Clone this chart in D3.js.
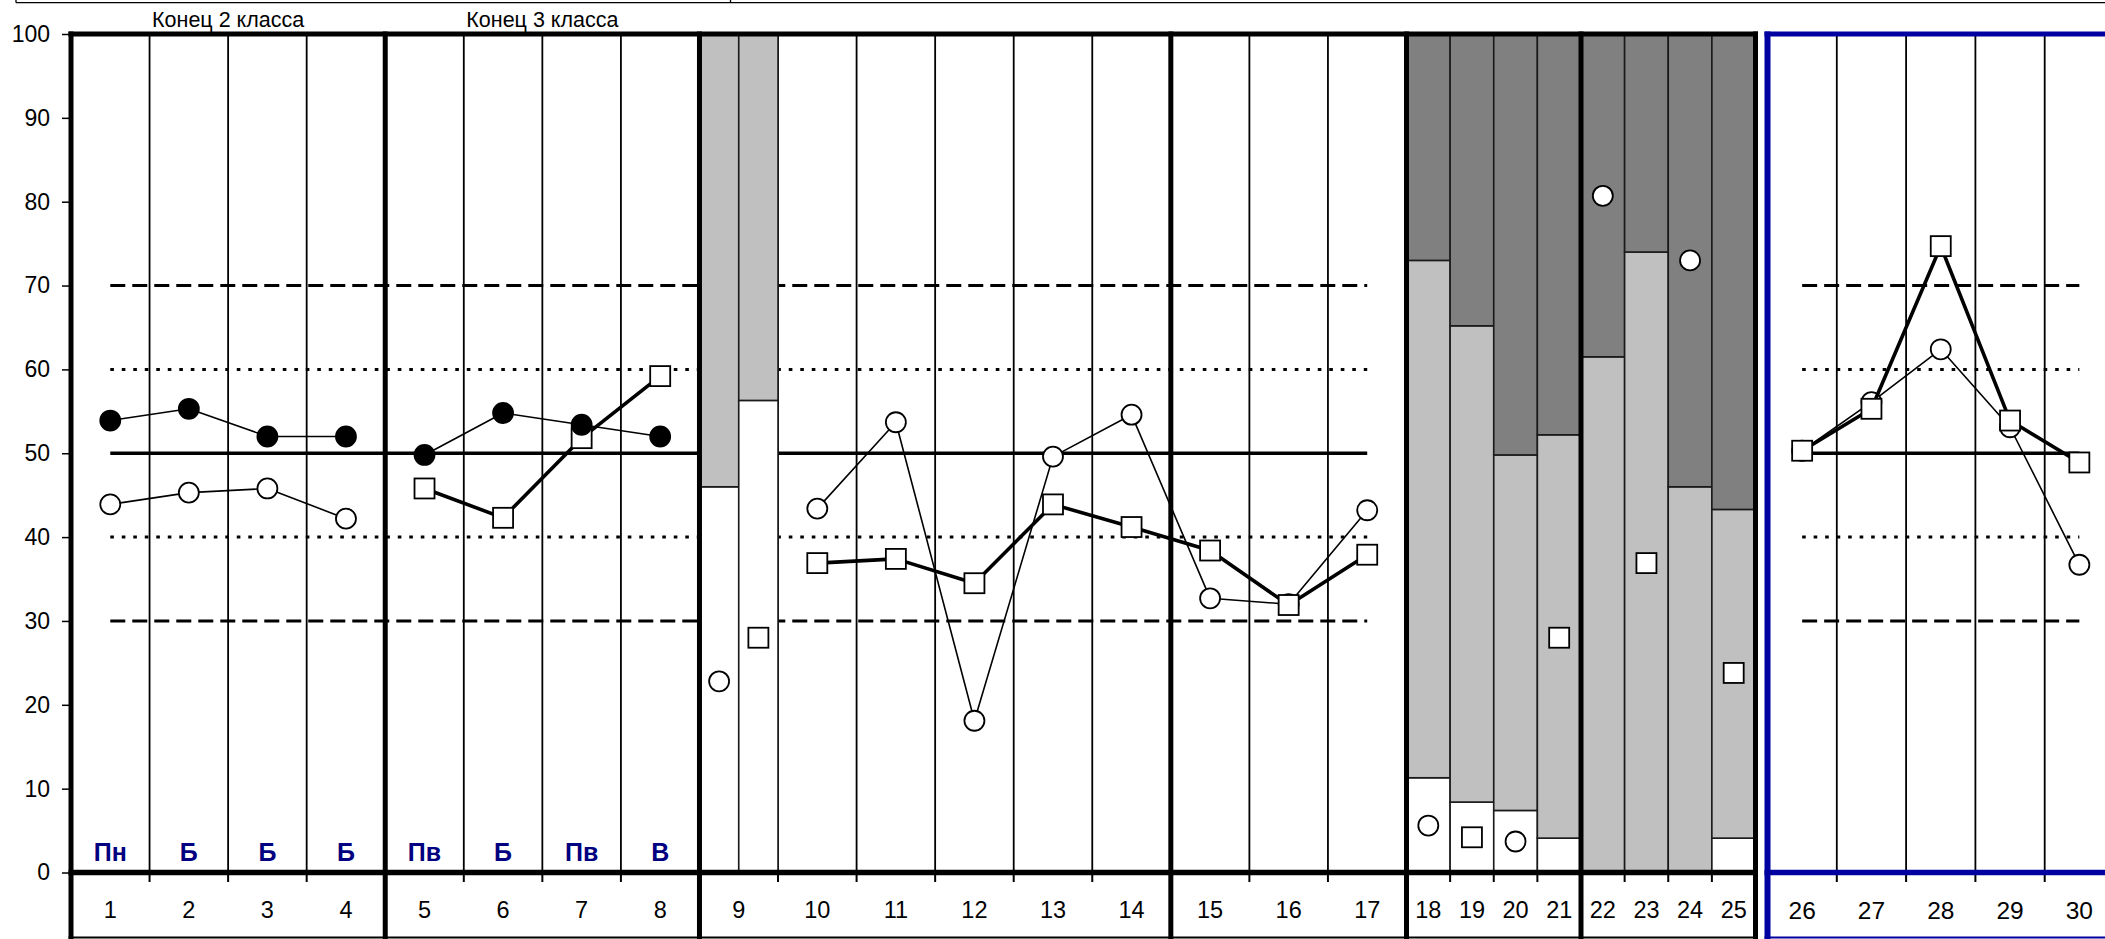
<!DOCTYPE html>
<html>
<head>
<meta charset="utf-8">
<script src="https://cdn.jsdelivr.net/npm/d3@7"></script>
<style>
  html, body { margin: 0; padding: 0; background: #fff; }
  svg { display: block; font-family: "Liberation Sans", Arial, sans-serif; }
</style>
</head>
<body>
<svg id="chart" width="2105" height="939"></svg>
<script>
// ---------------- DATA ----------------
const colsPanel1 = [1,2,3,4,5,6,7,8,9,10,11,12,13,14,15,16,17];
const colsPanel2 = [18,19,20,21,22,23,24,25];
const colsPanel3 = [26,27,28,29,30];
const yTicks = [0,10,20,30,40,50,60,70,80,90,100];

const groupTitles = ["Конец 2 класса", "Конец 3 класса"];
const groupTitleCols = [[1,4],[5,8]];
const letterCols = [1,2,3,4,5,6,7,8];
const letterLabels = ["Пн","Б","Б","Б","Пв","Б","Пв","В"];

// columns 1-4
const colsG1 = [1,2,3,4];
const filledG1 = [53.9, 55.3, 52.0, 52.0];
const openG1 = [43.9, 45.3, 45.8, 42.2];
// columns 5-8
const colsG2 = [5,6,7,8];
const filledG2 = [49.8, 54.8, 53.4, 52.0];
const squareG2 = [45.8, 42.3, 51.8, 59.2];
// column 9 (two sub-bars)
const bar9Parts = ["a","b"];
const bar9White = [46.0, 56.3];
const bar9Circle = [22.8, null];
const bar9Square = [null, 28.0];
// columns 10-17
const colsG3 = [10,11,12,13,14,15,16,17];
const openG3 = [43.4, 53.7, 18.1, 49.6, 54.6, 32.7, 32.0, 43.2];
const squareG3 = [36.9, 37.4, 34.5, 43.9, 41.2, 38.4, 31.9, 37.9];
// columns 18-25 stacked bars
const p2White = [11.3, 8.4, 7.4, 4.1, 0, 0, 0, 4.1];
const p2LightTop = [73.0, 65.2, 49.8, 52.2, 61.5, 74.0, 46.0, 43.3];
const p2DarkTop = [100,100,100,100,100,100,100,100];
const p2MarkerShape = ["circle","square","circle","square","circle","square","circle","square"];
const p2MarkerValue = [5.6, 4.2, 3.7, 28.0, 80.7, 36.9, 73.0, 23.8];
// columns 26-30
const squareP3 = [50.3, 55.3, 74.7, 53.9, 48.9];
const openP3 = [50.3, 56.1, 62.4, 53.1, 36.7];
// reference levels
const refLevels = [30, 40, 50, 60, 70];

// ---------------- SCALES ----------------
const svg = d3.select("#chart");
const y = d3.scaleLinear().domain([0, 100]).range([872.5, 34]);
const xA = d3.scaleBand().domain(colsPanel1).range([71, 1406.5]).padding(0);
const xB = d3.scaleBand().domain(colsPanel2).range([1406.5, 1755.5]).padding(0);
const xC = d3.scaleBand().domain(colsPanel3).range([1767.5, 2114]).padding(0);
const x9 = d3.scaleBand().domain(bar9Parts).range([xA(9), xA(9) + xA.bandwidth()]).padding(0);
const cx = (s, d) => s(d) + s.bandwidth() / 2;

const BLUE = "#0000A0";
const NAVY = "#000080";
const LIGHT = "#C0C0C0";
const DARK = "#808080";
const yTop = y(100), yAxis = y(0), yBottom = 937.5;

// ---------------- TOP THIN FRAME (cropped table above) ----------------
svg.append("line").attr("x1", 16).attr("x2", 2105).attr("y1", 2.7).attr("y2", 2.7)
  .attr("stroke", "#000").attr("stroke-width", 1.3);
svg.append("line").attr("x1", 16).attr("x2", 16).attr("y1", 0).attr("y2", 2.7)
  .attr("stroke", "#000").attr("stroke-width", 1.3);
svg.append("line").attr("x1", 730.5).attr("x2", 730.5).attr("y1", 0).attr("y2", 2.7)
  .attr("stroke", "#000").attr("stroke-width", 1.3);

// ---------------- THIN GRIDLINES ----------------
const thickAfter = new Set([4, 8, 14, 17]); // boundaries drawn thick in panel 1
const thinA = colsPanel1.slice(1).filter(d => !thickAfter.has(d - 1)).map(d => xA(d));
const thinB = colsPanel2.slice(1).filter(d => d !== 22).map(d => xB(d));
const thinC = colsPanel3.slice(1).map(d => xC(d));
const grid = svg.append("g");
[...thinA, ...thinC].forEach(xv => {
  grid.append("line").attr("x1", xv).attr("x2", xv).attr("y1", yTop).attr("y2", yAxis)
    .attr("stroke", "#000").attr("stroke-width", 1.8);
});
// small ticks below the axis
[...thinA, ...thinB, ...thinC].forEach(xv => {
  grid.append("line").attr("x1", xv).attr("x2", xv).attr("y1", yAxis).attr("y2", yAxis + 9.5)
    .attr("stroke", "#000").attr("stroke-width", 2);
});

// ---------------- REFERENCE LINES ----------------
function refStyle(v) {
  if (v === 50) return { w: 3.6, dash: null };
  if (v === 30 || v === 70) return { w: 3, dash: "15,7" };
  return { w: 3, dash: "3.6,7.9" };
}
const refG = svg.append("g");
[[xA, 1, 17], [xC, 26, 30]].forEach(([s, a, b]) => {
  refLevels.forEach(v => {
    const st = refStyle(v);
    refG.append("line")
      .attr("x1", cx(s, a)).attr("x2", cx(s, b))
      .attr("y1", y(v)).attr("y2", y(v))
      .attr("stroke", "#000").attr("stroke-width", st.w)
      .attr("stroke-dasharray", st.dash);
  });
});

// ---------------- BARS ----------------
const bars = svg.append("g").attr("stroke", "#1a1a1a").attr("stroke-width", 1.6);
bar9Parts.forEach((p, i) => {
  bars.append("rect").attr("x", x9(p)).attr("width", x9.bandwidth())
    .attr("y", y(bar9White[i])).attr("height", y(0) - y(bar9White[i])).attr("fill", "#fff");
  bars.append("rect").attr("x", x9(p)).attr("width", x9.bandwidth())
    .attr("y", y(100)).attr("height", y(bar9White[i]) - y(100)).attr("fill", LIGHT);
});
colsPanel2.forEach((c, i) => {
  const segs = [[0, p2White[i], "#fff"], [p2White[i], p2LightTop[i], LIGHT], [p2LightTop[i], p2DarkTop[i], DARK]];
  segs.forEach(([a, b, f]) => {
    if (b - a <= 0) return;
    bars.append("rect").attr("x", xB(c)).attr("width", xB.bandwidth())
      .attr("y", y(b)).attr("height", y(a) - y(b)).attr("fill", f);
  });
});

// ---------------- SERIES ----------------
const series = svg.append("g");
function drawLine(s, cols, vals, width) {
  const pts = cols.map((c, i) => [cx(s, c), y(vals[i])]);
  series.append("path").attr("d", d3.line()(pts))
    .attr("fill", "none").attr("stroke", "#000").attr("stroke-width", width)
    .attr("stroke-linejoin", "round");
}
function drawCircles(s, cols, vals, fill) {
  cols.forEach((c, i) => {
    if (vals[i] == null) return;
    series.append("circle").attr("cx", cx(s, c)).attr("cy", y(vals[i])).attr("r", 10)
      .attr("fill", fill).attr("stroke", "#000").attr("stroke-width", 1.8);
  });
}
function drawSquares(s, cols, vals) {
  cols.forEach((c, i) => {
    if (vals[i] == null) return;
    series.append("rect").attr("x", cx(s, c) - 10).attr("y", y(vals[i]) - 10)
      .attr("width", 20).attr("height", 20)
      .attr("fill", "#fff").attr("stroke", "#000").attr("stroke-width", 1.8);
  });
}
// columns 1-4
drawLine(xA, colsG1, openG1, 1.6); drawCircles(xA, colsG1, openG1, "#fff");
drawLine(xA, colsG1, filledG1, 1.6); drawCircles(xA, colsG1, filledG1, "#000");
// columns 5-8
drawLine(xA, colsG2, squareG2, 3.6); drawSquares(xA, colsG2, squareG2);
drawLine(xA, colsG2, filledG2, 1.6); drawCircles(xA, colsG2, filledG2, "#000");
// column 9
drawCircles(x9, bar9Parts, bar9Circle, "#fff");
drawSquares(x9, bar9Parts, bar9Square);
// columns 10-17
drawLine(xA, colsG3, openG3, 1.6); drawCircles(xA, colsG3, openG3, "#fff");
drawLine(xA, colsG3, squareG3, 3.6); drawSquares(xA, colsG3, squareG3);
// columns 18-25
colsPanel2.forEach((c, i) => {
  if (p2MarkerShape[i] === "circle") drawCircles(xB, [c], [p2MarkerValue[i]], "#fff");
  else drawSquares(xB, [c], [p2MarkerValue[i]]);
});
// columns 26-30
drawLine(xC, colsPanel3, openP3, 1.6); drawCircles(xC, colsPanel3, openP3, "#fff");
drawLine(xC, colsPanel3, squareP3, 3.6); drawSquares(xC, colsPanel3, squareP3);

// ---------------- FRAME (thick lines) ----------------
const frame = svg.append("g").attr("stroke", "#000");
const rightB = xB.range()[1];
frame.append("line").attr("x1", 68.5).attr("x2", rightB + 2.5).attr("y1", yTop).attr("y2", yTop).attr("stroke-width", 5);
frame.append("line").attr("x1", 68.5).attr("x2", rightB + 2.5).attr("y1", yAxis).attr("y2", yAxis).attr("stroke-width", 5.5);
frame.append("line").attr("x1", 68.5).attr("x2", rightB + 2.5).attr("y1", yBottom).attr("y2", yBottom).attr("stroke-width", 2);
const thickXs = [xA(1), xA(5), xA(9), xA(15), xB(18), xB(22), rightB];
thickXs.forEach(xv => {
  frame.append("line").attr("x1", xv).attr("x2", xv).attr("y1", yTop - 2.5).attr("y2", 939)
    .attr("stroke-width", 5);
});
// panel 3 blue frame
const xC0 = xC.range()[0];
const blue = svg.append("g").attr("stroke", BLUE);
blue.append("line").attr("x1", xC0 - 3).attr("x2", 2105).attr("y1", yTop).attr("y2", yTop).attr("stroke-width", 5);
blue.append("line").attr("x1", xC0 - 3).attr("x2", 2105).attr("y1", yAxis).attr("y2", yAxis).attr("stroke-width", 5.5);
blue.append("line").attr("x1", xC0 - 3).attr("x2", 2105).attr("y1", yBottom).attr("y2", yBottom).attr("stroke-width", 2);
blue.append("line").attr("x1", xC0).attr("x2", xC0).attr("y1", yTop - 2.5).attr("y2", 939).attr("stroke-width", 6);

// ---------------- Y AXIS ----------------
const yAxisG = svg.append("g").attr("transform", "translate(" + xA(1) + ",0)")
  .call(d3.axisLeft(y).tickValues(yTicks).tickSize(9).tickPadding(12).tickFormat(d3.format("d")));
yAxisG.select(".domain").remove();
yAxisG.selectAll(".tick line").attr("stroke", "#000").attr("stroke-width", 1.5);
yAxisG.selectAll(".tick text").attr("font-size", 23).attr("fill", "#000")
  .attr("font-family", "'Liberation Sans', Arial, sans-serif");

// ---------------- CATEGORY LABELS ----------------
function catAxis(s, size) {
  const g = svg.append("g").attr("transform", "translate(0," + yAxis + ")")
    .call(d3.axisBottom(s).tickSize(0).tickPadding(29));
  g.select(".domain").remove();
  g.selectAll(".tick text").attr("font-size", size).attr("fill", "#000")
    .attr("font-family", "'Liberation Sans', Arial, sans-serif");
}
catAxis(xA, 23.5); catAxis(xB, 23.5); catAxis(xC, 24.5);

// ---------------- BLUE LETTER LABELS ----------------
svg.append("g").selectAll("text").data(letterCols).join("text")
  .attr("x", d => cx(xA, d)).attr("y", 861)
  .attr("text-anchor", "middle").attr("font-weight", "bold").attr("font-size", 25)
  .attr("fill", NAVY)
  .text((d, i) => letterLabels[i]);

// ---------------- GROUP TITLES ----------------
svg.append("g").selectAll("text").data(groupTitles).join("text")
  .attr("x", (d, i) => (xA(groupTitleCols[i][0]) + xA(groupTitleCols[i][1]) + xA.bandwidth()) / 2)
  .attr("y", 27)
  .attr("text-anchor", "middle").attr("font-size", 21.5).attr("fill", "#000")
  .text(d => d);
</script>
</body>
</html>
